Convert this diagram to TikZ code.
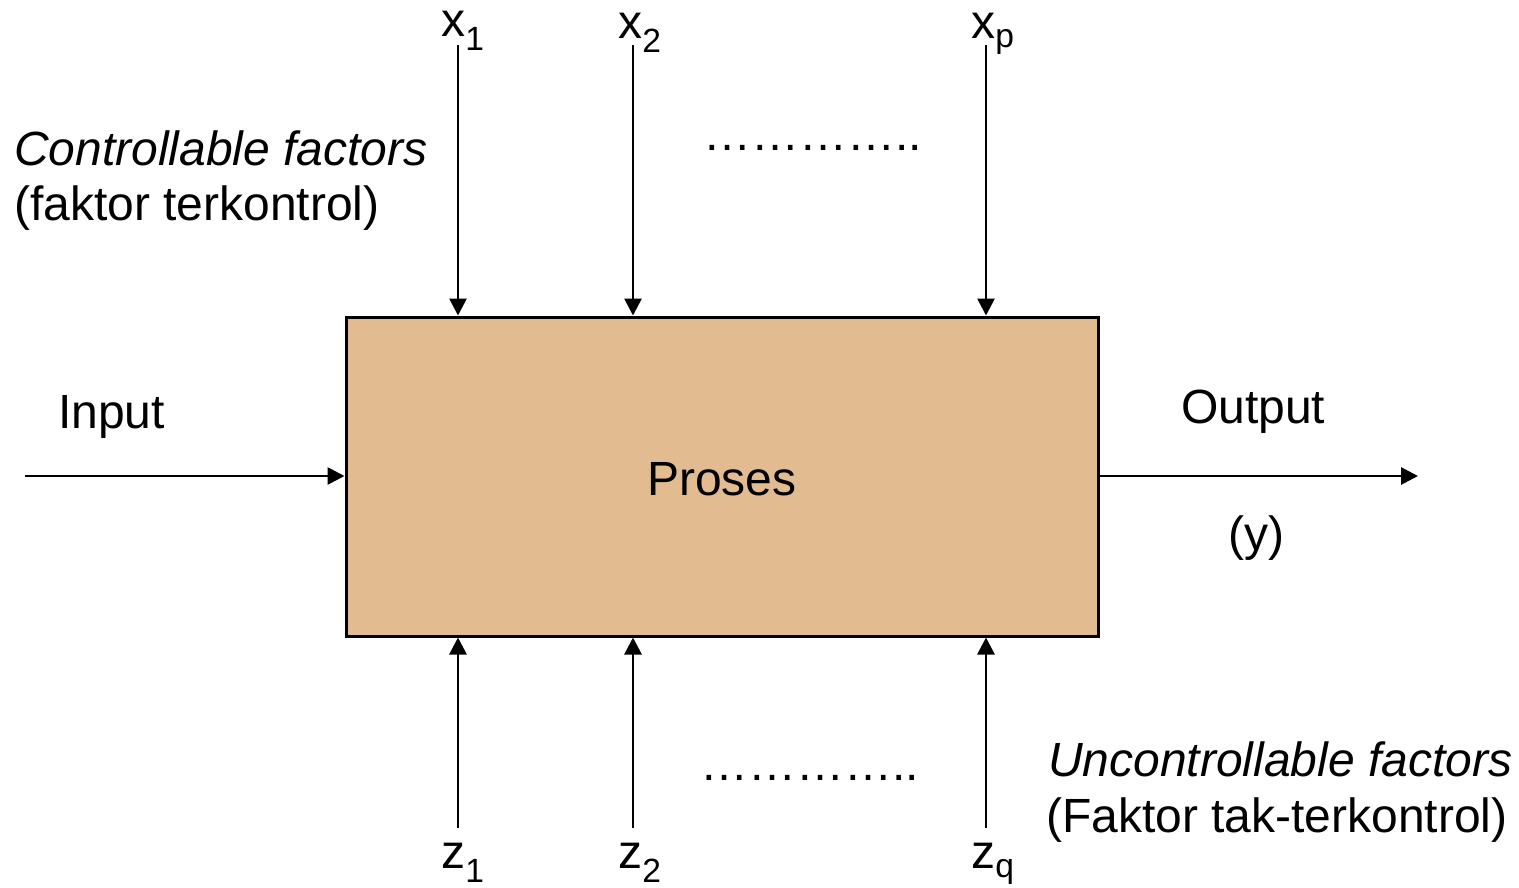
\documentclass[tikz,border=0pt]{standalone}
\usepackage{fontspec}
\setmainfont{Liberation Sans}
\usetikzlibrary{arrows.meta}
\definecolor{boxfill}{HTML}{E2BB91}
\tikzset{
  conn/.style={line width=2.8pt,-{Triangle[length=17pt,width=17pt]}},
  lbl/.style={font=\fontsize{48}{56}\selectfont,inner sep=0pt},
  procbox/.style={draw,line width=3pt,fill=boxfill}
}
\begin{document}
\begin{tikzpicture}[x=1pt,y=-1pt]
\useasboundingbox (0,0) rectangle (1519,887);
\node[procbox,minimum width=752pt,minimum height=319pt,inner sep=0pt] (box) at (722,476.5) {};
\node[lbl,anchor=base] (proses) at (722,495) {Proses};
% top controllable inputs
\coordinate (t1) at (458,45); \coordinate (t2) at (633,45); \coordinate (tp) at (986,45);
\draw[conn] (t1) -- (t1 |- box.north);
\draw[conn] (t2) -- (t2 |- box.north);
\draw[conn] (tp) -- (tp |- box.north);
\node[lbl,anchor=base] (x1) at (463,36) {x\textsubscript{1}};
\node[lbl,anchor=base] (x2) at (640,38) {x\textsubscript{2}};
\node[lbl,anchor=base] (xp) at (993,38) {x\textsubscript{p}};
% bottom uncontrollable inputs
\coordinate (b1) at (458,828); \coordinate (b2) at (633,828); \coordinate (bq) at (986,828);
\draw[conn] (b1) -- (b1 |- box.south);
\draw[conn] (b2) -- (b2 |- box.south);
\draw[conn] (bq) -- (bq |- box.south);
\node[lbl,anchor=base] (z1) at (463,868) {z\textsubscript{1}};
\node[lbl,anchor=base] (z2) at (640,868) {z\textsubscript{2}};
\node[lbl,anchor=base] (zq) at (993,868) {z\textsubscript{q}};
% dots
\node[lbl,anchor=base west] (dtop) at (703,150) {…………..};
\node[lbl,anchor=base west] (dbot) at (700,780) {…………..};
% input / output
\coordinate (in) at (25,476);
\coordinate (out) at (1418,476);
\draw[conn] (in) -- (box.west |- in);
\draw[conn] (box.east |- out) -- (out);
\node[lbl,anchor=base west] (input) at (58,428) {Input};
\node[lbl,anchor=base west] (output) at (1181,423) {Output};
\node[lbl,anchor=base] (y) at (1256,550) {(y)};
% factor labels
\node[lbl,anchor=base west] (ctrl) at (14,165) {\itshape Controllable factors};
\node[lbl,anchor=base west] (ctrl2) at (14,220) {(faktor terkontrol)};
\node[lbl,anchor=base west] (unc) at (1048,776) {\itshape Uncontrollable factors};
\node[lbl,anchor=base west] (unc2) at (1046,832) {(Faktor tak-terkontrol)};
\end{tikzpicture}
\end{document}
